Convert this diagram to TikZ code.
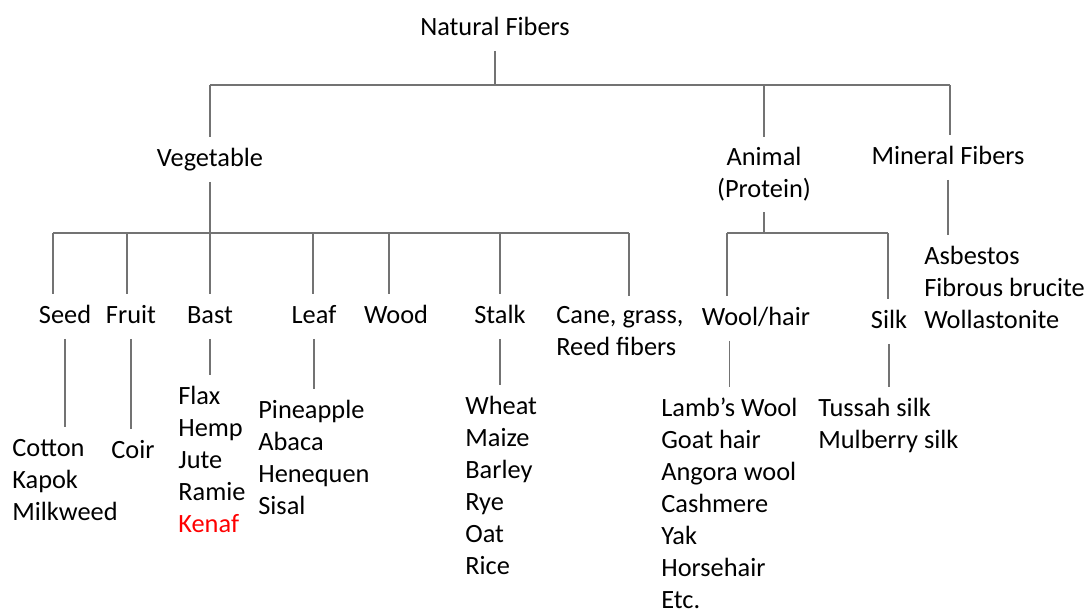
\documentclass[tikz,border=0pt]{standalone}
\usepackage{fontspec}
\setmainfont{Carlito}
\tikzset{
  lbl/.style={inner sep=0pt, outer ysep=6pt, text height=10.5pt, text depth=3pt,
    anchor=base, font=\fontsize{15pt}{18.2pt}\selectfont},
  item/.style={lbl, anchor=base west},
  lbl2/.style={inner sep=0pt, outer ysep=6pt, font=\fontsize{15pt}{18.2pt}\selectfont},
  branch/.style={draw=black!55, line width=0.6pt}
}
\begin{document}
\begin{tikzpicture}[x=0.02cm, y=-0.02cm]
\useasboundingbox (0,0) rectangle (1092,612);
% top levels
\node[lbl] (nat) at (495,35) {Natural Fibers};
\node[lbl] (veg) at (210,166) {Vegetable};
\node[lbl2, align=center, anchor=north] (animal) at (764,137) {Animal\\(Protein)};
\node[lbl] (min) at (948,164) {Mineral Fibers};
\coordinate (b0l) at (210,85);
\coordinate (b0r) at (950,85);
\draw[branch] (nat) -- (nat |- b0l);
\draw[branch] (b0l) -- (b0r);
\draw[branch] (b0l) -- (veg);
\draw[branch] (animal |- b0l) -- (animal);
\draw[branch] (b0r) -- (b0r |- min.north);
% vegetable
\node[lbl] (seed) at (65,323) {Seed};
\node[lbl] (fruit) at (131,323) {Fruit};
\node[lbl] (bast) at (210,323) {Bast};
\node[lbl] (leaf) at (314,323) {Leaf};
\node[lbl] (wood) at (396,323) {Wood};
\node[lbl] (stalk) at (500,323) {Stalk};
\node[lbl2, align=left, anchor=north west] (cane) at (556,296) {Cane, grass,\\Reed fibers};
\coordinate (b1l) at (53,233);
\coordinate (b1r) at (629,233);
\draw[branch] (veg) -- (veg |- b1l);
\draw[branch] (b1l) -- (b1r);
\foreach \n/\x in {seed/53,fruit/127,bast/210,leaf/313,wood/389,stalk/500,cane/629}{
  \coordinate (top) at (\x,233);
  \draw[branch] (top) -- (top |- \n.north);
}
% animal
\node[lbl] (wool) at (756,325) {Wool/hair};
\node[lbl] (silk) at (889,328) {Silk};
\coordinate (b2l) at (727,233);
\coordinate (b2r) at (888,233);
\draw[branch] (animal) -- (animal |- b2l);
\draw[branch] (b2l) -- (b2r);
\draw[branch] (b2l) -- (b2l |- wool.north);
\draw[branch] (b2r) -- (b2r |- silk.north);
% lists
\foreach \w [count=\i] in {Cotton,Kapok,Milkweed}
  \node[item] (seed\i) at (12,424+32*\i) {\w};
\node[item] (coir) at (111,458) {Coir};
\foreach \w [count=\i] in {Flax,Hemp,Jute,Ramie,{\color{red}Kenaf}}
  \node[item] (bast\i) at (178,372+32*\i) {\w};
\foreach \w [count=\i] in {Pineapple,Abaca,Henequen,Sisal}
  \node[item] (leaf\i) at (258,386+32*\i) {\w};
\foreach \w [count=\i] in {Wheat,Maize,Barley,Rye,Oat,Rice}
  \node[item] (stalk\i) at (465,382+32*\i) {\w};
\foreach \w [count=\i] in {Lamb’s Wool,Goat hair,Angora wool,Cashmere,Yak,Horsehair,Etc.}
  \node[item] (wool\i) at (661,384+32*\i) {\w};
\foreach \w [count=\i] in {Tussah silk,Mulberry silk}
  \node[item] (silk\i) at (818,384+32*\i) {\w};
\foreach \w [count=\i] in {Asbestos,Fibrous brucite,Wollastonite}
  \node[item] (min\i) at (924,232+32*\i) {\w};
\draw[branch] (seed) -- (seed |- seed1.north);
\draw[branch] (fruit) -- (fruit |- coir.north);
\draw[branch] (bast) -- (bast |- bast1.north);
\draw[branch] (leaf) -- (leaf |- leaf1.north);
\draw[branch] (stalk) -- (stalk |- stalk1.north);
\draw[branch] (wool.south -| wool1) -- (wool1);
\draw[branch] (silk) -- (silk |- silk1.north);
\draw[branch] (min) -- (min |- min1.north);
\end{tikzpicture}
\end{document}
